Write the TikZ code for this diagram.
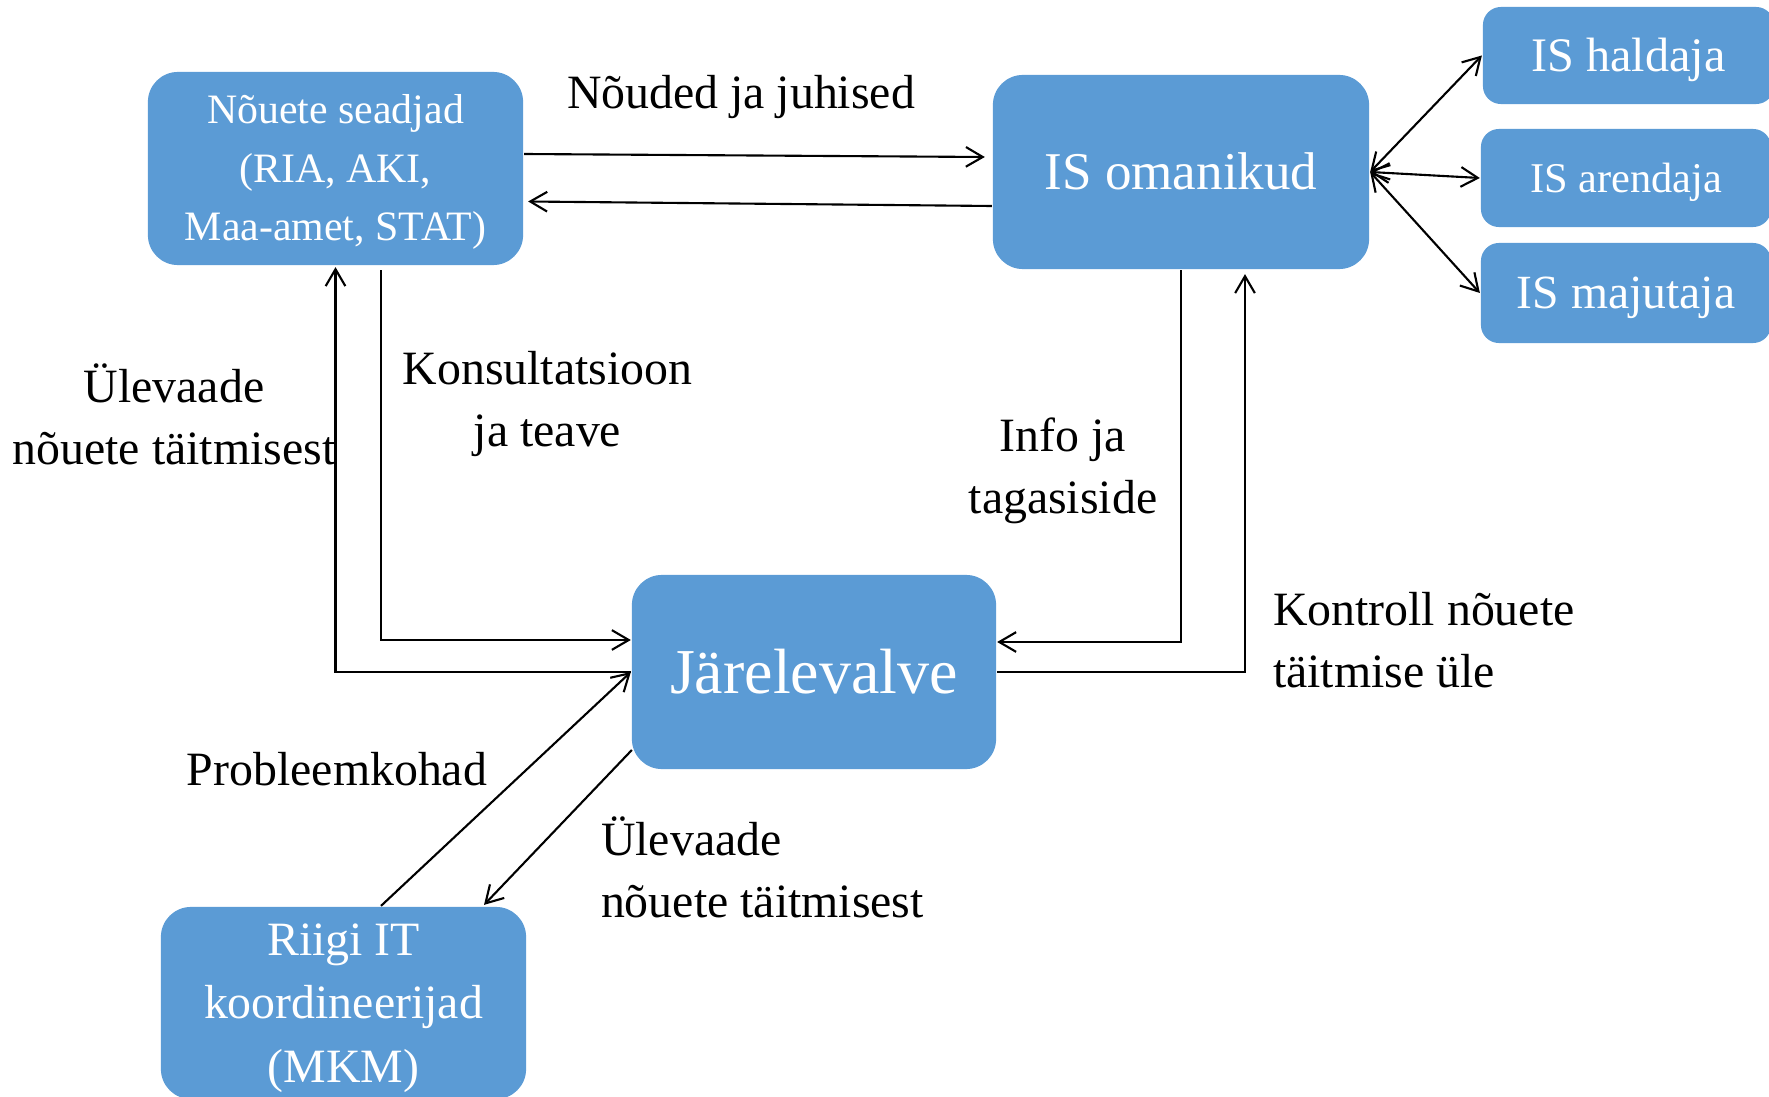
\documentclass[tikz,border=0pt]{standalone}
\usepackage{fontspec}
\setmainfont{Liberation Serif}
\usetikzlibrary{arrows.meta,calc}
\definecolor{boxblue}{HTML}{5B9BD5}
\begin{document}
\begin{tikzpicture}[x=0.01cm,y=-0.01cm, line width=0.6pt,
  >={Straight Barb[length=4.8pt,width=5.6pt]},
  box/.style={draw=none, fill=boxblue, text=white, rounded corners=0.3cm, inner sep=0pt, align=center},
  sbox/.style={box, rounded corners=0.18cm},
  lbl/.style={inner sep=0pt, font=\fontsize{13.6}{17.6}\selectfont}]
\useasboundingbox (0,0) rectangle (1769,1097);
\clip (0,0) rectangle (1769,1097);

\node[box, minimum width=3.75cm, minimum height=1.93cm, font=\fontsize{11.9}{16.64}\selectfont, text height=41.2pt, text depth=0pt] (NS) at (335.5,168.5) {Nõuete seadjad\\(RIA, AKI,\\Maa-amet, STAT)};
\node[box, minimum width=3.76cm, minimum height=1.94cm, font=\fontsize{15.1}{18}\selectfont, text height=10pt, text depth=0pt] (IS) at (1181,172) {IS omanikud};
\node[box, minimum width=3.64cm, minimum height=1.94cm, font=\fontsize{18.2}{22}\selectfont, text height=12.05pt, text depth=0pt] (JV) at (814,672) {Järelevalve};
\node[box, minimum width=3.65cm, minimum height=1.92cm, font=\fontsize{13.6}{18.07}\selectfont, text height=45.1pt, text depth=0pt] (RIT) at (343.5,1003) {Riigi IT\\koordineerijad\\(MKM)};
\node[sbox, minimum width=2.91cm, minimum height=0.97cm, font=\fontsize{13.7}{16}\selectfont, text height=9.07pt, text depth=0pt] (IH) at (1628.5,55.5) {IS haldaja};
\node[sbox, minimum width=2.90cm, minimum height=0.98cm, font=\fontsize{12.05}{14}\selectfont, text height=7.98pt, text depth=0pt] (IA) at (1626,178) {IS arendaja};
\node[sbox, minimum width=2.90cm, minimum height=1.00cm, font=\fontsize{13.55}{16}\selectfont, text height=8.97pt, text depth=0pt] (IM) at (1626,293) {IS majutaja};

\node[lbl, anchor=base] (L1) at (741,109) {Nõuded ja juhised};
\node[lbl, align=center, anchor=base] (L2) at (174,464) {Ülevaade\\nõuete täitmisest};
\node[lbl, align=center, anchor=base] (L3) at (547.5,446) {Konsultatsioon\\ja teave};
\node[lbl, align=center, anchor=base] (L4) at (1063,513) {Info ja\\tagasiside};
\node[lbl, align=left, anchor=base west] (L5) at (1272,687) {Kontroll nõuete\\täitmise üle};
\node[lbl, anchor=base] (L6) at (337,785) {Probleemkohad};
\node[lbl, align=left, anchor=base west] (L7) at (600,917) {Ülevaade\\nõuete täitmisest};

\draw[->] ($(NS.east)+(0,-14.5)$) -- ($(IS.west)+(-7,-15)$);
\draw[->] ($(IS.west)+(0,34)$) -- ($(NS.east)+(4,33)$);
\draw[->] (JV.west) -| ($(NS.south)+(0,1)$);
\draw[->] ($(NS.south)+(45.5,4)$) |- ($(JV.west)+(0,-32)$);
\draw[->] (IS.south) |- ($(JV.east)+(0,-30)$);
\draw[->] (JV.east) -| ($(IS.south)+(64,4)$);
\draw[->] ($(RIT.north)+(37.5,0)$) -- (JV.west);
\draw[->] ($(JV.west)+(1,78)$) -- ($(RIT.north)+(140.5,-1)$);
\draw[<->] (IS.east) -- (IH.west);
\draw[<->] (IS.east) -- (IA.west);
\draw[<->] (IS.east) -- (IM.west);
\end{tikzpicture}
\end{document}
